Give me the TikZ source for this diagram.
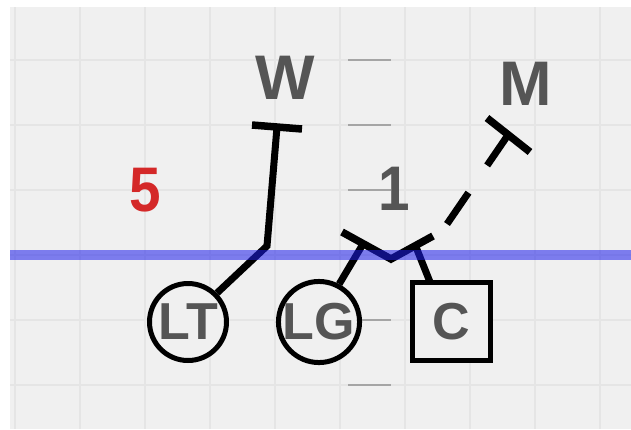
\documentclass[tikz,border=0pt]{standalone}
\usepackage{fontspec}
\setmainfont{Liberation Sans}
\definecolor{fieldbg}{RGB}{240,240,240}
\definecolor{gridln}{RGB}{229,229,229}
\definecolor{hashln}{RGB}{165,165,165}
\definecolor{losblue}{RGB}{30,30,235}
\definecolor{labelgrey}{RGB}{85,85,85}
\definecolor{downred}{RGB}{212,40,40}
\begin{document}
\begin{tikzpicture}[x=1pt,y=-1pt,
  gridline/.style={draw=gridln, line width=1.6pt},
  hashmark/.style={draw=hashln, line width=2.2pt},
  player/.style={circle, draw=black, line width=5pt, fill=fieldbg,
    minimum size=77pt, inner sep=0pt, text=labelgrey,
    font=\fontsize{52}{52}\selectfont\bfseries},
  centerbox/.style={rectangle, draw=black, line width=5.5pt, fill=fieldbg,
    minimum size=78pt, inner sep=0pt, text=labelgrey,
    font=\fontsize{52}{52}\selectfont\bfseries},
  biglabel/.style={inner sep=0pt, text=labelgrey,
    font=\fontsize{63}{63}\selectfont\bfseries},
  route/.style={draw=black, line width=7pt, line join=miter},
  blockbar/.style={draw=black, line width=7.5pt},
  losline/.style={draw=losblue, line width=10pt, opacity=0.55},
]
\useasboundingbox (0,0) rectangle (631,429);

% field background with its grid
\fill[white] (0,0) rectangle (631,429);
\fill[fieldbg] (10,7) rectangle (631,429);
\foreach \gx in {15,80,...,600}
  \draw[gridline] (\gx,7) -- (\gx,429);
\foreach \gy in {60,125,190,255,320,385}
  \draw[gridline] (10,\gy) -- (631,\gy);

% yard hash marks
\foreach \gy in {60,125,190,320,385}
  \draw[hashmark] (348,\gy) -- (391,\gy);

% labels
\node[biglabel] (w) at (285,78) {W};
\node[biglabel] (m) at (526,84) {M};
\node[biglabel, xscale=0.9] (one) at (394,189) {1};
\node[biglabel, text=downred, xscale=0.9] (five) at (145,190) {5};

% linemen
\node[player] (lt) at (188,322) {LT};
\node[player] (lg) at (319,322) {LG};
\node[centerbox] (c) at (451.5,321.5) {C};

% route and block points
\coordinate (ltbend) at (267,246);
\coordinate (wpt) at (277,127);
\coordinate (wbarl) at (252,125);
\coordinate (wbarr) at (302,129);
\coordinate (lgpt) at (363,244);
\coordinate (lgbarl) at (342,232);
\coordinate (vpt) at (391,259);
\coordinate (cbot) at (430,282);
\coordinate (cpt) at (416,247);
\coordinate (cbarr) at (433,236);
\coordinate (mstart) at (447,224);
\coordinate (mpt) at (508,135);
\coordinate (mbarl) at (487,118);
\coordinate (mbarr) at (530,152);

% LT to the W
\draw[route] (lt.45) -- (ltbend) -- (wpt);
\draw[blockbar] (wbarl) -- (wbarr);

% LG and C double team
\draw[route] (lg.62) -- (lgpt);
\draw[route] (cbot) -- (cpt);
\draw[blockbar] (lgbarl) -- (vpt) -- (cbarr);

% C climbing to the M
\draw[route, dash pattern=on 38pt off 33pt] (mstart) -- (mpt);
\draw[blockbar] (mbarl) -- (mbarr);

% line of scrimmage
\draw[losline] (10,255) -- (631,255);
\end{tikzpicture}
\end{document}
